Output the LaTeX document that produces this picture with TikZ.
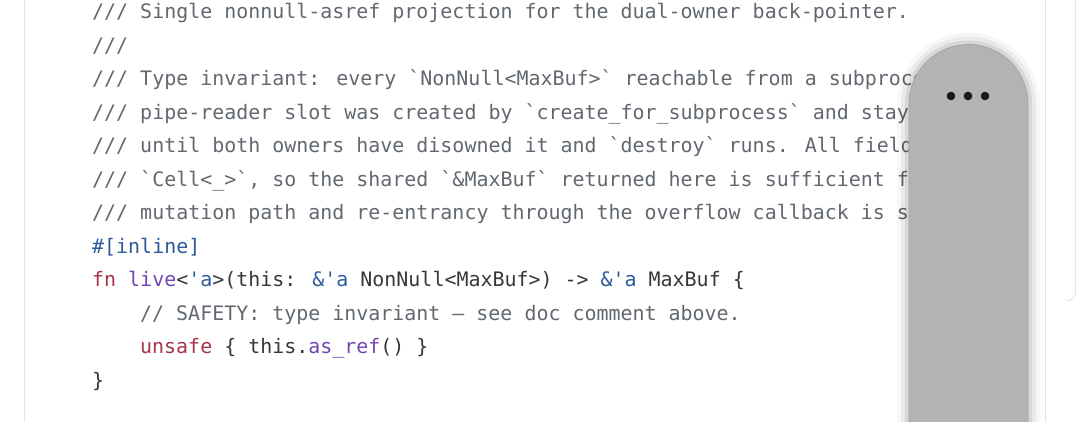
\documentclass[tikz,border=0pt]{standalone}
\usepackage{fontspec}
\newfontfamily\codefont{DejaVu Sans Mono}
\definecolor{cmt}{HTML}{62686F}
\definecolor{plain}{HTML}{34383D}
\definecolor{kwred}{HTML}{A8344A}
\definecolor{fnpurple}{HTML}{7446B0}
\definecolor{lifeblue}{HTML}{2E5A9C}
\definecolor{pillgray}{HTML}{B3B3B4}
\definecolor{edge}{HTML}{E3E4E6}
\newcommand\kw[1]{\textcolor{kwred}{#1}}
\newcommand\fnm[1]{\textcolor{fnpurple}{#1}}
\newcommand\lt[1]{\textcolor{lifeblue}{#1}}
\begin{document}
\begin{tikzpicture}[x=1pt,y=-1pt,
    codeline/.style={anchor=base west, inner sep=0pt, font=\codefont\fontsize{19.95}{20}\selectfont, text=plain},
    comment/.style={codeline, text=cmt}]
    \useasboundingbox (0,0) rectangle (1080,422);
    \fill[white] (0,0) rectangle (1080,422);
    % code box edges
    \draw[edge, line width=1pt] (24.5,0) -- (24.5,422);
    \draw[edge, line width=1pt] (1045.5,0) -- (1045.5,422);
    \draw[edge, line width=1pt] (1075.5,0) -- (1075.5,292) arc (0:90:9) ;

    \node[comment] at (92,19)  (l1)  {/// Single nonnull-asref projection for the dual-owner back-pointer.};
    \node[comment] at (92,53)  (l2)  {///};
    \node[comment] at (92,86)  (l3)  {/// Type invariant: every `NonNull<MaxBuf>` reachable from a subproce};
    \node[comment] at (92,120) (l4)  {/// pipe-reader slot was created by `create\_for\_subprocess` and stay};
    \node[comment] at (92,153) (l5)  {/// until both owners have disowned it and `destroy` runs. All field};
    \node[comment] at (92,187) (l6)  {/// `Cell<\_>`, so the shared `\&MaxBuf` returned here is sufficient f};
    \node[comment] at (92,220) (l7)  {/// mutation path and re-entrancy through the overflow callback is s};
    \node[codeline, text=lifeblue] at (92,254) (l8) {\#[inline]};
    \node[codeline] at (92,287) (l9)
      {\kw{fn} \fnm{live}<\lt{'a}>(this: \lt{\&'a} NonNull<MaxBuf>) -> \lt{\&'a} MaxBuf \{};
    \node[comment] at (140,321) (l10) {// SAFETY: type invariant — see doc comment above.};
    \node[codeline] at (140,354) (l11) {\kw{unsafe} \{ this.\fnm{as\_ref}() \}};
    \node[codeline] at (92,388) (l12) {\}};

    % scroll pill
    \foreach \w/\o in {12/0.03,8/0.05,4/0.08}
      \fill[black, opacity=\o] (909-\w,430) -- (909-\w,104) arc (180:360:59.5+\w) -- (1028+\w,430) -- cycle;
    \fill[pillgray, draw=black!35, line width=0.8pt] (909,430) -- (909,104) arc (180:360:59.5) -- (1028,430) -- cycle;
    \foreach \dx in {951,968,985}
      \fill[black!90] (\dx,96) circle (4.3);
\end{tikzpicture}
\end{document}
